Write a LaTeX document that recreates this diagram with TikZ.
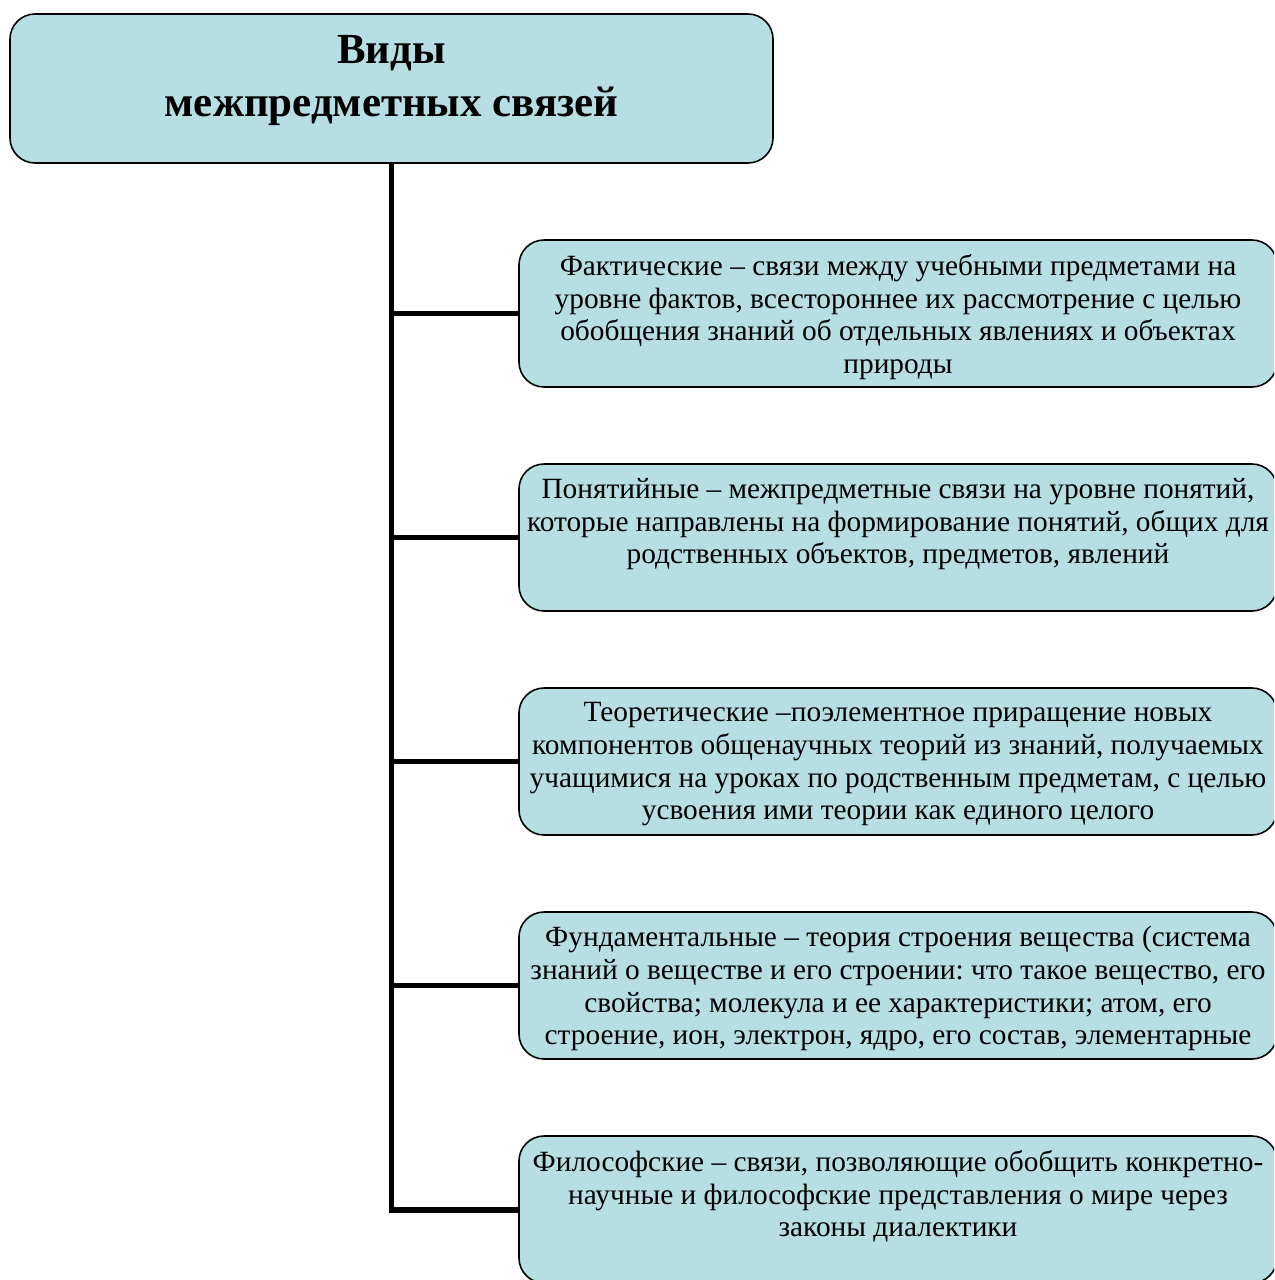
\documentclass[tikz,border=0pt]{standalone}
\usepackage{fontspec}
\setmainfont{Liberation Serif}
\frenchspacing
\definecolor{boxblue}{HTML}{B7DEE3}
\newcommand{\kindtext}[1]{\parbox[t][2.68cm][t]{14.9cm}{\vspace*{0.16cm}\centering\fontsize{16.7}{18.6}\selectfont #1}}
\tikzset{
  kind/.style={draw, line width=0.9pt, fill=boxblue, rounded corners=0.5cm, inner xsep=0.13cm, inner ysep=0.13cm},
  spine/.style={line width=3.4pt},
  branch/.style={line width=2.6pt}
}
\begin{document}
\begin{tikzpicture}
    \clip (0,0) rectangle (25.48,-25.6);
    \node[kind, minimum width=15.26cm, minimum height=2.98cm,
          font=\fontsize{24.4}{30}\selectfont\bfseries, align=center]
                                             (title) at (7.83,-1.77) {Виды\\межпредметных связей\\[-16pt]};
    \node[kind] (fakt) at ([shift={(10.13,-4.50)}] title) {\kindtext{Фактические – связи между учебными предметами на\\уровне фактов, всестороннее их рассмотрение с целью\\обобщения знаний об отдельных явлениях и объектах\\природы}};
    \node[kind] (pon)  at ([shift={(0,-4.48)}]     fakt)  {\kindtext{Понятийные – межпредметные связи на уровне понятий,\\которые направлены на формирование понятий, общих для\\родственных объектов, предметов, явлений}};
    \node[kind] (teor) at ([shift={(0,-4.48)}]     pon)   {\kindtext{Теоретические –поэлементное приращение новых\\компонентов общенаучных теорий из знаний, получаемых\\учащимися на уроках по родственным предметам, с целью\\усвоения ими теории как единого целого}};
    \node[kind] (fund) at ([shift={(0,-4.48)}]     teor)  {\kindtext{Фундаментальные – теория строения вещества (система\\знаний о веществе и его строении: что такое вещество, его\\свойства; молекула и ее характеристики; атом, его\\строение, ион, электрон, ядро, его состав, элементарные}};
    \node[kind] (phil) at ([shift={(0,-4.48)}]     fund)  {\kindtext{Философские – связи, позволяющие обобщить конкретно-\\научные и философские представления о мире через\\законы диалектики}};
    \draw [spine] (title.south) -- (title.south |- phil.west) -- (phil.west);
    \draw [branch] (title.south |- fakt.west) -- (fakt.west);
    \draw [branch] (title.south |- pon.west)  -- (pon.west);
    \draw [branch] (title.south |- teor.west) -- (teor.west);
    \draw [branch] (title.south |- fund.west) -- (fund.west);
  \end{tikzpicture}
\end{document}
